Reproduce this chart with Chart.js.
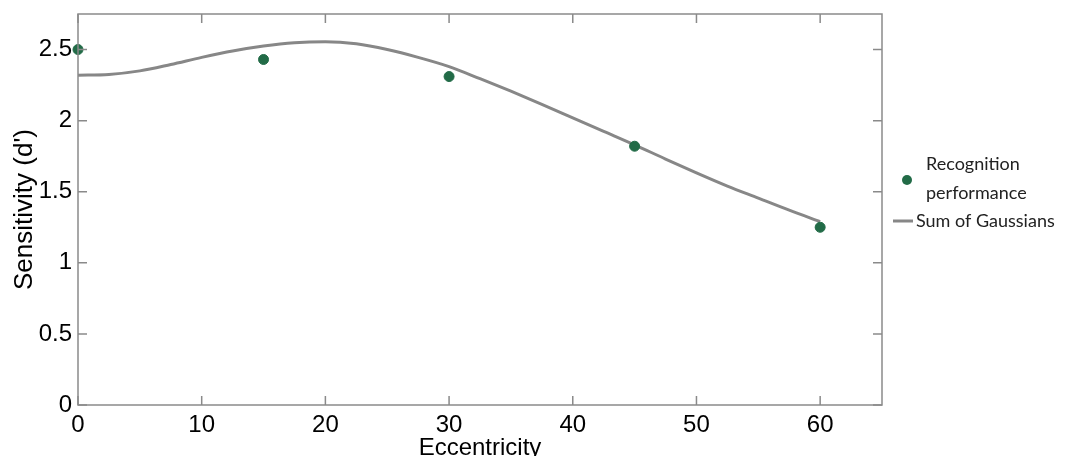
<!DOCTYPE html>
<html>
<head>
<meta charset="utf-8">
<script src="https://cdn.jsdelivr.net/npm/chart.js@4"></script>
<style>
  html, body { margin: 0; padding: 0; background: #fff; }
  #wrap { width: 1066px; height: 456px; }
</style>
</head>
<body>
<div id="wrap"><canvas id="chart" width="1066" height="456"></canvas></div>
<script>
// Measured recognition performance
const eccentricity = [0, 15, 30, 45, 60];
const sensitivity = [2.50, 2.43, 2.31, 1.82, 1.25];

// Sum of Gaussians fit
const fitX = [0, 2.5, 5, 7.5, 10, 12.5, 15, 17.5, 20, 22.5, 25, 27.5, 30,
  32.5, 35, 37.5, 40, 42.5, 45, 47.5, 50, 52.5, 55, 57.5, 60];
const fitY = [2.32, 2.325, 2.35, 2.395, 2.445, 2.49, 2.525, 2.548, 2.555, 2.54, 2.50, 2.445, 2.38,
  2.295, 2.207, 2.115, 2.02, 1.925, 1.83, 1.73, 1.633, 1.54, 1.455, 1.37, 1.29];

const xTicks = [0, 10, 20, 30, 40, 50, 60];
const yTicks = [0, 0.5, 1, 1.5, 2, 2.5];

const axisGrey = '#8a8a8a';
const dotGreen = '#226b47';
const lineGrey = '#878787';

// Box around the plot with inward tick marks on all four sides, plus legend
const frame = {
  id: 'frame',
  afterDraw(chart) {
    const { ctx, chartArea: a, scales: { x, y } } = chart;
    ctx.save();
    ctx.strokeStyle = axisGrey;
    ctx.lineWidth = 1.5;
    ctx.strokeRect(a.left, a.top, a.right - a.left, a.bottom - a.top);
    ctx.beginPath();
    xTicks.forEach(v => {
      const px = x.getPixelForValue(v);
      ctx.moveTo(px, a.bottom); ctx.lineTo(px, a.bottom - 9);
      ctx.moveTo(px, a.top); ctx.lineTo(px, a.top + 9);
    });
    yTicks.forEach(v => {
      const py = y.getPixelForValue(v);
      ctx.moveTo(a.left, py); ctx.lineTo(a.left + 9, py);
      ctx.moveTo(a.right, py); ctx.lineTo(a.right - 9, py);
    });
    ctx.stroke();

    // legend
    const lx = a.right + 11;
    ctx.font = '18px Lato, "Open Sans", sans-serif';
    ctx.textBaseline = 'middle';
    ctx.beginPath();
    ctx.arc(lx + 14, 180, 5, 0, Math.PI * 2);
    ctx.fillStyle = dotGreen;
    ctx.fill();
    ctx.fillStyle = '#222';
    ctx.fillText(chart.data.datasets[0].label[0], lx + 33, 164);
    ctx.fillText(chart.data.datasets[0].label[1], lx + 33, 193);
    ctx.strokeStyle = lineGrey;
    ctx.lineWidth = 3;
    ctx.beginPath();
    ctx.moveTo(lx, 221); ctx.lineTo(lx + 20, 221);
    ctx.stroke();
    ctx.fillText(chart.data.datasets[1].label, lx + 23, 221);
    ctx.restore();
  }
};

const tickFont = { family: '"Liberation Sans", Arial, sans-serif', size: 24 };

new Chart(document.getElementById('chart'), {
  type: 'scatter',
  data: {
    datasets: [
      {
        label: ['Recognition', 'performance'],
        data: eccentricity.map((v, i) => ({ x: v, y: sensitivity[i] })),
        backgroundColor: dotGreen,
        borderColor: dotGreen,
        pointRadius: 5,
        order: 0,
        clip: false
      },
      {
        label: 'Sum of Gaussians',
        data: fitX.map((v, i) => ({ x: v, y: fitY[i] })),
        showLine: true,
        borderColor: lineGrey,
        borderWidth: 3,
        pointRadius: 0,
        cubicInterpolationMode: 'monotone',
        order: 1
      }
    ]
  },
  options: {
    responsive: false,
    animation: false,
    layout: { padding: { top: 14, right: 184, left: 9, bottom: 0 } },
    plugins: {
      legend: { display: false },
      tooltip: { enabled: false }
    },
    scales: {
      x: {
        type: 'linear',
        min: 0,
        max: 65,
        border: { display: false },
        grid: { display: false, drawTicks: false, tickLength: 0 },
        afterBuildTicks: s => { s.ticks = xTicks.map(v => ({ value: v })); },
        afterFit: s => { s.height = 51; },
        ticks: { color: '#000', font: tickFont, padding: 6, maxRotation: 0 },
        title: {
          display: true,
          text: 'Eccentricity',
          color: '#000',
          font: { family: tickFont.family, size: 24 },
          padding: { top: 0, bottom: -7 }
        }
      },
      y: {
        min: 0,
        max: 2.75,
        border: { display: false },
        grid: { display: false, drawTicks: false, tickLength: 0 },
        afterBuildTicks: s => { s.ticks = yTicks.map(v => ({ value: v })); },
        afterFit: s => { s.width = 69; s.paddingTop = 0; s.paddingBottom = 0; },
        ticks: { color: '#000', font: tickFont, padding: 6, callback: v => String(v) },
        title: {
          display: true,
          text: "Sensitivity (d')",
          color: '#000',
          font: { family: tickFont.family, size: 26 },
          padding: { top: 0, bottom: 0 }
        }
      }
    }
  },
  plugins: [frame]
});
</script>
</body>
</html>
